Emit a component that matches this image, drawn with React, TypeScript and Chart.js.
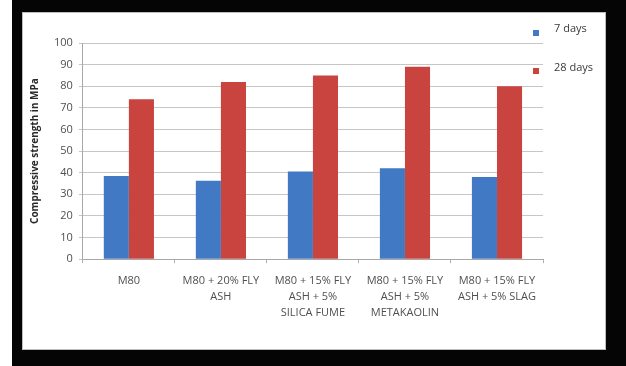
import React, { useEffect, useRef } from "react";
import { Chart, registerables } from "chart.js";

Chart.register(...registerables);

// Mix designs along the x axis (multi-line labels)
const categories: string[][] = [
  ["M80"],
  ["M80 + 20% FLY", "ASH"],
  ["M80 + 15% FLY", "ASH + 5%", "SILICA FUME"],
  ["M80 + 15% FLY", "ASH + 5%", "METAKAOLIN"],
  ["M80 + 15% FLY", "ASH + 5% SLAG"],
];

// Compressive strength (MPa)
const days7: number[] = [38.5, 36.3, 40.5, 42, 38];
const days28: number[] = [74, 82, 85, 89, 80];

const seriesNames = ["7 days", "28 days"];
const seriesColors = ["#4179c4", "#c9433f"];

const yTicks = { min: 0, max: 100, step: 10 };
const yTitle = "Compressive strength in MPa";

const FONT = "'Open Sans', 'Liberation Sans', sans-serif";

// Legend drawn at the upper right, stacked with wide spacing
const sideLegend = {
  id: "sideLegend",
  afterDraw(chart: Chart) {
    const { ctx, chartArea } = chart;
    const rows = [
      { marker: chartArea.top - 10, text: chartArea.top - 14 },
      { marker: chartArea.top + 28, text: chartArea.top + 25 },
    ];
    ctx.save();
    ctx.font = `11px ${FONT}`;
    ctx.textBaseline = "middle";
    ctx.textAlign = "left";
    seriesNames.forEach((name, i) => {
      const r = rows[i];
      ctx.fillStyle = seriesColors[i];
      ctx.fillRect(chartArea.right - 10, r.marker - 3, 6, 6);
      ctx.fillStyle = "#3a3a3a";
      ctx.fillText(name, chartArea.right + 11, r.text);
    });
    ctx.restore();
  },
};

export default function App() {
  const canvasRef = useRef<HTMLCanvasElement>(null);

  useEffect(() => {
    if (!canvasRef.current) return;
    const chart = new Chart(canvasRef.current, {
      type: "bar",
      data: {
        labels: categories,
        datasets: [
          {
            label: seriesNames[0],
            data: days7,
            backgroundColor: seriesColors[0],
            barPercentage: 1,
            categoryPercentage: 0.545,
          },
          {
            label: seriesNames[1],
            data: days28,
            backgroundColor: seriesColors[1],
            barPercentage: 1,
            categoryPercentage: 0.545,
          },
        ],
      },
      options: {
        responsive: false,
        animation: false,
        devicePixelRatio: 1,
        layout: { padding: { left: 6, right: 62, top: 30, bottom: 18 } },
        plugins: {
          legend: { display: false },
          tooltip: { enabled: false },
        },
        scales: {
          x: {
            grid: {
              offset: true,
              drawOnChartArea: false,
              tickLength: 4,
              color: "#b0b0b0",
            },
            border: { color: "#a8a8a8" },
            ticks: {
              color: "#505050",
              font: { family: FONT, size: 11, lineHeight: 1.45 },
              padding: 10,
              maxRotation: 0,
              autoSkip: false,
            },
          },
          y: {
            min: yTicks.min,
            max: yTicks.max,
            ticks: {
              stepSize: yTicks.step,
              color: "#505050",
              font: { family: FONT, size: 11 },
              padding: 6,
            },
            grid: { color: "#c6c6c6", tickLength: 4 },
            border: { color: "#a8a8a8" },
            title: {
              display: true,
              text: yTitle,
              color: "#2a2a2a",
              font: { family: FONT, size: 10, weight: "bold" },
              padding: { top: 0, bottom: 7 },
            },
          },
        },
      },
      plugins: [sideLegend],
    });
    return () => chart.destroy();
  }, []);

  return (
    <div
      style={{
        position: "absolute",
        left: 0,
        top: 0,
        width: 626,
        height: 366,
        background: "#ffffff",
        overflow: "hidden",
      }}
    >
      <div
        style={{
          position: "absolute",
          left: 12,
          top: 0,
          width: 614,
          height: 366,
          background: "#050505",
        }}
      />
      <div
        style={{
          position: "absolute",
          left: 23,
          top: 13,
          width: 582,
          height: 336,
          background: "#ffffff",
          boxShadow: "0 0 0 1px #bdbdbd",
        }}
      >
        <canvas ref={canvasRef} width={582} height={336} style={{ display: "block" }} />
      </div>
    </div>
  );
}
